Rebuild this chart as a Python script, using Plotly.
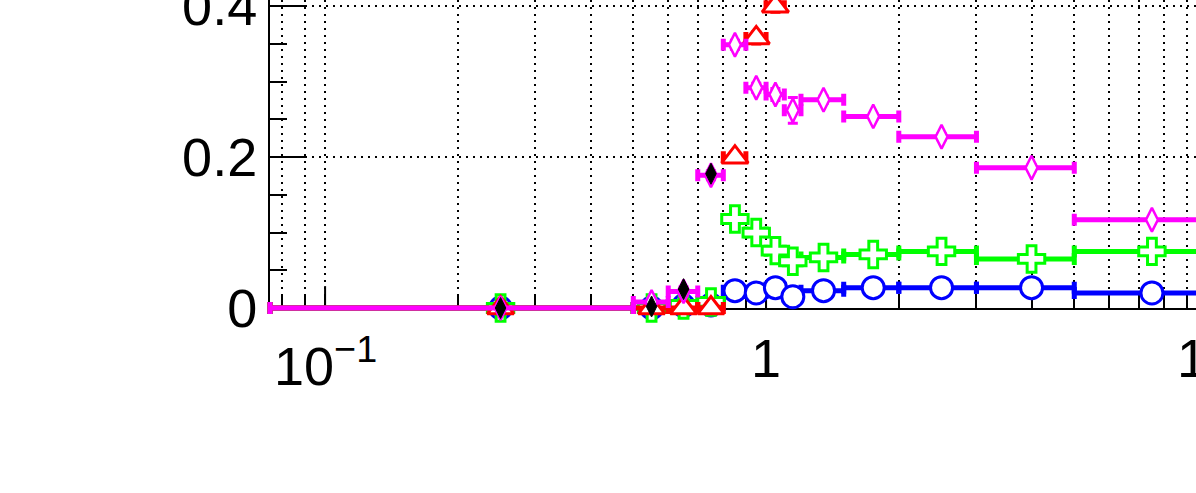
import numpy as np
import plotly.graph_objects as go

# ---- data ----
bin_lo = [0.0, 0.5, 0.6, 0.7, 0.8, 0.9, 1.0, 1.1, 1.2, 1.5, 2.0, 3.0, 5.0]
bin_hi = [0.5, 0.6, 0.7, 0.8, 0.9, 1.0, 1.1, 1.2, 1.5, 2.0, 3.0, 5.0, 10.0]
bin_center = [0.25, 0.55, 0.65, 0.75, 0.85, 0.95, 1.05, 1.15, 1.35, 1.75, 2.5, 4.0, 7.5]

blue_vals = [0.0, 0.0, 0.003, 0.004, 0.023, 0.020, 0.027, 0.015, 0.023, 0.027, 0.027, 0.027, 0.020]
blue_err = [0.001, 0.001, 0.001, 0.001, 0.003, 0.003, 0.003, 0.003, 0.003, 0.003, 0.003, 0.003, 0.003]

green_vals = [0.0, 0.0, 0.004, 0.008, 0.118, 0.100, 0.076, 0.062, 0.067, 0.071, 0.075, 0.065, 0.075]
green_err = [0.001, 0.001, 0.002, 0.002, 0.005, 0.005, 0.004, 0.004, 0.004, 0.003, 0.003, 0.003, 0.003]

red_vals = [0.0, 0.0, 0.0, 0.0, 0.200, 0.358, 0.400, None, None, None, None, None, None]
red_err = [0.001, 0.001, 0.001, 0.001, 0.006, 0.008, 0.008, 0, 0, 0, 0, 0, 0]

magenta_vals = [0.0, 0.008, 0.022, 0.176, 0.349, 0.292, 0.283, 0.262, 0.276, 0.254, 0.227, 0.186, 0.117]
magenta_err = [0.001, 0.004, 0.006, 0.006, 0.006, 0.006, 0.008, 0.017, 0.005, 0.004, 0.004, 0.004, 0.004]

black_vals = [0.0, 0.002, 0.025, 0.178, None, None, None, None, None, None, None, None, None]

x_tick_vals = [0.08, 0.09, 0.1, 0.2, 0.3, 0.4, 0.5, 0.6, 0.7, 0.8, 0.9,
               1, 2, 3, 4, 5, 6, 7, 8, 9]
x_decades = [0.1, 1, 10]
x_decade_text = ["10<sup>\u22121</sup>", "1", "10"]
y_tick_vals = [0.0, 0.2, 0.4]
y_tick_text = ["0", "0.2", "0.4"]

# ---- layout constants ----
W, H = 1196, 493
ML, MB = 270, 185
x_log_range = [np.log10(0.075), 0.975]
y_range = [0.0, 0.4083]
FONT = "Liberation Sans, Arial, sans-serif"

xmin_draw = 10 ** x_log_range[0]


def xerrs(vals):
    plus, minus, xs, ys = [], [], [], []
    for c, lo, hi, v in zip(bin_center, bin_lo, bin_hi, vals):
        if v is None:
            continue
        lo_d = max(lo, xmin_draw)
        xs.append(c)
        ys.append(v)
        plus.append(hi - c)
        minus.append(c - lo_d)
    return xs, ys, plus, minus


def yerr_filter(vals, errs):
    return [e for v, e in zip(vals, errs) if v is not None]


fig = go.Figure()

# open markers: white interior so error bars do not cross them (as in ROOT)
series = [
    ("blue", blue_vals, blue_err, "#0000ff", "circle", 22, 3),
    ("green", green_vals, green_err, "#00ff00", "cross", 22, 3),
    ("red", red_vals, red_err, "#ff0000", "triangle-up", 23, 3),
    ("magenta", magenta_vals, magenta_err, "#ff00ff", "diamond-tall", 17, 2.5),
]
for name, vals, errs, col, sym, size, lw in series:
    xs, ys, ep, em = xerrs(vals)
    fig.add_trace(go.Scatter(
        x=xs, y=ys, mode="markers", name=name, showlegend=False,
        cliponaxis=False,
        marker=dict(symbol=sym, size=size, color="white", line=dict(color=col, width=lw)),
        error_x=dict(type="data", symmetric=False, array=ep, arrayminus=em,
                     color=col, thickness=5, width=6),
        error_y=dict(type="data", array=yerr_filter(vals, errs),
                     color=col, thickness=3, width=5),
    ))

bx = [c for c, v in zip(bin_center, black_vals) if v is not None]
by = [v for v in black_vals if v is not None]
fig.add_trace(go.Scatter(
    x=bx, y=by, mode="markers", showlegend=False, cliponaxis=False,
    marker=dict(symbol="diamond-tall", size=15, color="black",
                line=dict(color="black", width=1)),
))

# longer decade ticks
for d in x_decades[:2]:
    fig.add_shape(type="line", xref="x", yref="y", x0=d, x1=d, y0=0, y1=0.029,
                  line=dict(color="black", width=2), layer="below")

# tick labels for decades (drawn as annotations so the cropped "10" is shown)
span = x_log_range[1] - x_log_range[0]
for d, t in zip(x_decades, x_decade_text):
    fig.add_annotation(x=(np.log10(d) - x_log_range[0]) / span, xref="paper",
                       y=0, yref="paper", yanchor="top", xanchor="center",
                       yshift=-18, text=t, showarrow=False,
                       font=dict(family=FONT, size=54, color="black"))

fig.update_xaxes(
    type="log", range=x_log_range, automargin=False,
    tickvals=x_tick_vals, ticktext=[""] * len(x_tick_vals),
    ticks="inside", ticklen=12, tickwidth=2, tickcolor="black",
    showgrid=True, gridcolor="black", gridwidth=2, griddash="2px,5px",
    showline=True, linecolor="black", linewidth=2,
    zeroline=False, layer="below traces",
)
fig.update_yaxes(
    range=y_range, tickvals=y_tick_vals, ticktext=y_tick_text, automargin=False,
    ticks="inside", ticklen=35, tickwidth=2, tickcolor="black",
    minor=dict(dtick=0.05, tick0=0, ticks="inside", ticklen=17, tickwidth=2,
               tickcolor="black", showgrid=False),
    showgrid=True, gridcolor="black", gridwidth=2, griddash="2px,5px",
    showline=True, linecolor="black", linewidth=2,
    zeroline=False, layer="below traces",
    tickfont=dict(family=FONT, size=54, color="black"),
    ticklabelstandoff=0, ticklabeloverflow="allow",
)
fig.update_layout(
    width=W, height=H,
    margin=dict(l=ML, r=0, t=0, b=MB, pad=0, autoexpand=False),
    paper_bgcolor="white", plot_bgcolor="white",
    showlegend=False,
)

post = """
document.body.style.margin='0';
document.body.style.overflow='hidden';
var gd = document.getElementById('{plot_id}');
function unclip(){
  gd.querySelectorAll('g.errorbars, g.errorbar, g.errorbar path').forEach(function(e){
    e.removeAttribute('clip-path');
  });
}
unclip();
setTimeout(unclip, 50);
"""
fig.write_html("out.html", config={"displayModeBar": False}, post_script=post)
